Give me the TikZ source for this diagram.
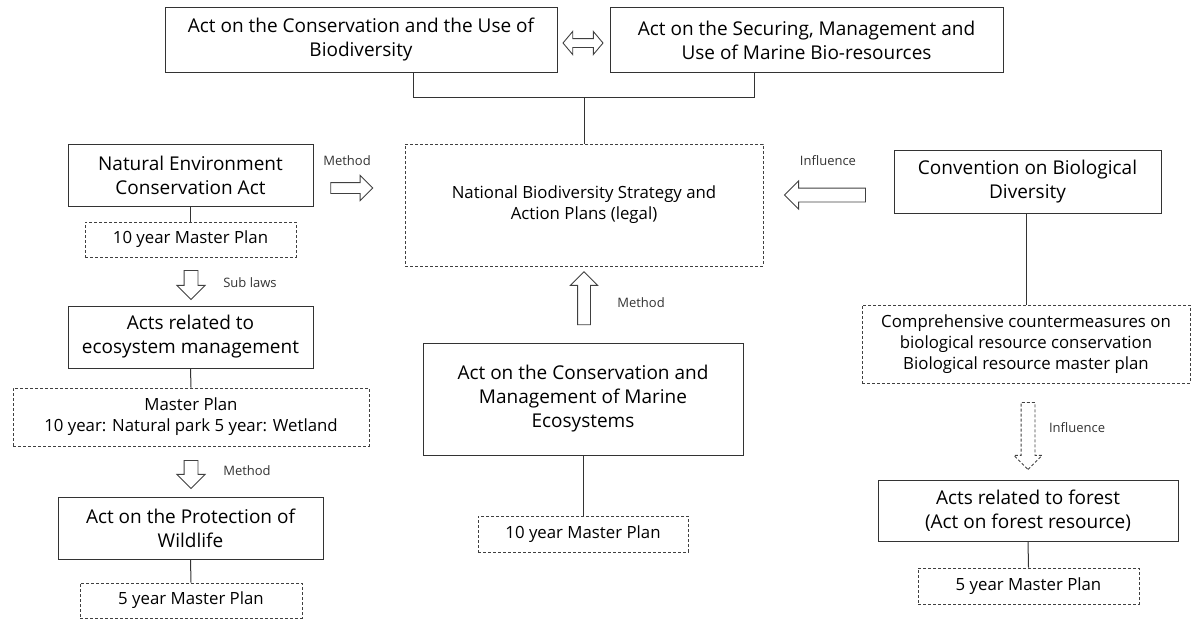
\documentclass[tikz,border=0pt]{standalone}
\usepackage{fontspec}
\setmainfont{Open Sans}
\usepackage{tikz}
\usetikzlibrary{positioning, shapes.arrows}

\begin{document}
\begin{tikzpicture}[x=1pt, y=-1pt,
        box/.style={draw=black!80, line width=1pt, rectangle, inner sep=0pt, align=center, font=\fontsize{19}{24}\selectfont},
        planbox/.style={draw=black!75, line width=0.9pt, dash pattern=on 3pt off 2pt, rectangle, inner sep=0pt, align=center, font=\fontsize{16.8}{21}\selectfont},
        fatarrow/.style={draw=black!75, line width=0.9pt, single arrow, inner sep=0pt, single arrow tip angle=90},
        lbl/.style={text=black!80, font=\fontsize{13}{15}\selectfont}]
        \useasboundingbox (0,0) rectangle (1193,619);
        % top laws
        \node[box, minimum width=392pt, minimum height=65pt] (CBU) at (361,40) {Act on the Conservation and the Use of\\Biodiversity};
        \node[box, minimum width=393pt, minimum height=65pt] (MBR) at (806.5,40) {Act on the Securing, Management and\\Use of Marine Bio-resources};
        \node[draw=black!75, line width=0.9pt, double arrow, inner sep=0pt, minimum height=40pt, minimum width=17pt, text height=8pt, double arrow tip angle=100] (dbl) at (583,43) {};
        \node[planbox, minimum width=358pt, minimum height=122pt] (NBSAP) at (584,205) {National Biodiversity Strategy and\\Action Plans (legal)};
        \coordinate (bl) at (413,97);
        \coordinate (br) at (754,97);
        \coordinate (jn) at (584,97);
        \draw[black!80, line width=1pt] (bl |- CBU.south) -- (bl) -- (br) -- (br |- MBR.south);
        \draw[black!80, line width=1pt] (jn) -- (NBSAP.north);

        % left column
        \node[box, minimum width=245pt, minimum height=62pt] (NEC) at (190.5,175) {Natural Environment\\Conservation Act};
        \node[planbox, minimum width=211pt, minimum height=35pt] (NECplan) at (190.5,239.5) {10 year Master Plan};
        \node[fatarrow, minimum height=29pt, minimum width=28pt, shape border rotate=270, text width=13pt] (sub) at (191,281.5) {};
        \node[lbl] (sublbl) at (250,283) {Sub laws};
        \node[box, minimum width=245pt, minimum height=62pt] (ECO) at (190.5,337) {Acts related to\\ecosystem management};
        \node[planbox, minimum width=356pt, minimum height=58pt] (ECOplan) at (191,417) {Master Plan\\10 year: Natural park 5 year: Wetland};
        \node[fatarrow, minimum height=28pt, minimum width=28pt, shape border rotate=270, text width=13pt] (meth1) at (191,471) {};
        \node[lbl] (meth1lbl) at (247,471) {Method};
        \node[box, minimum width=265pt, minimum height=62pt] (WL) at (190.5,528) {Act on the Protection of\\Wildlife};
        \node[planbox, minimum width=222pt, minimum height=35pt] (WLplan) at (191,600.5) {5 year Master Plan};
        \draw[black!80, line width=1pt] (NEC.south) -- (NECplan.north);
        \draw[black!80, line width=1pt] (ECO.south) -- (ECOplan.north);
        \draw[black!80, line width=1pt] (WL.south) -- (WLplan.north);
        \node[fatarrow, minimum height=42pt, minimum width=22pt, text height=10pt] (meth2) at (349,188) {};
        \node[lbl] (meth2lbl) at (347,161) {Method};

        % middle column
        \node[fatarrow, minimum height=53pt, minimum width=25pt, shape border rotate=90, text width=12pt] (meth3) at (584,301.5) {};
        \node[lbl] (meth3lbl) at (641,303) {Method};
        \node[box, minimum width=320pt, minimum height=112pt] (MEC) at (583,399) {Act on the Conservation and\\Management of Marine\\Ecosystems};
        \node[planbox, minimum width=210pt, minimum height=36pt] (MECplan) at (583,534) {10 year Master Plan};
        \draw[black!80, line width=1pt] (MEC.south) -- (MECplan.north);

        % right column
        \node[box, minimum width=267pt, minimum height=63pt] (CBD) at (1027.5,182) {Convention on Biological\\Diversity};
        \node[fatarrow, minimum height=81pt, minimum width=26pt, shape border rotate=180, text height=13pt] (infl1) at (828.5,195) {};
        \node[lbl] (infl1lbl) at (828,161) {Influence};
        \node[planbox, minimum width=328pt, minimum height=78pt] (CRC) at (1026,344) {Comprehensive countermeasures on\\biological resource conservation\\Biological resource master plan};
        \node[fatarrow, dash pattern=on 3pt off 2pt, minimum height=67pt, minimum width=28pt, shape border rotate=270, text width=13pt] (infl2) at (1028,432.5) {};
        \node[lbl] (infl2lbl) at (1077,428) {Influence};
        \node[box, minimum width=300pt, minimum height=61pt] (FOR) at (1028,510.5) {Acts related to forest\\(Act on forest resource)};
        \node[planbox, minimum width=221pt, minimum height=36pt] (FORplan) at (1028.5,586) {5 year Master Plan};
        \draw[black!80, line width=1pt] (CBD.south -| CRC.north) -- (CRC.north);
        \draw[black!80, line width=1pt] (FOR.south) -- (FORplan.north);
    \end{tikzpicture}
\end{document}
